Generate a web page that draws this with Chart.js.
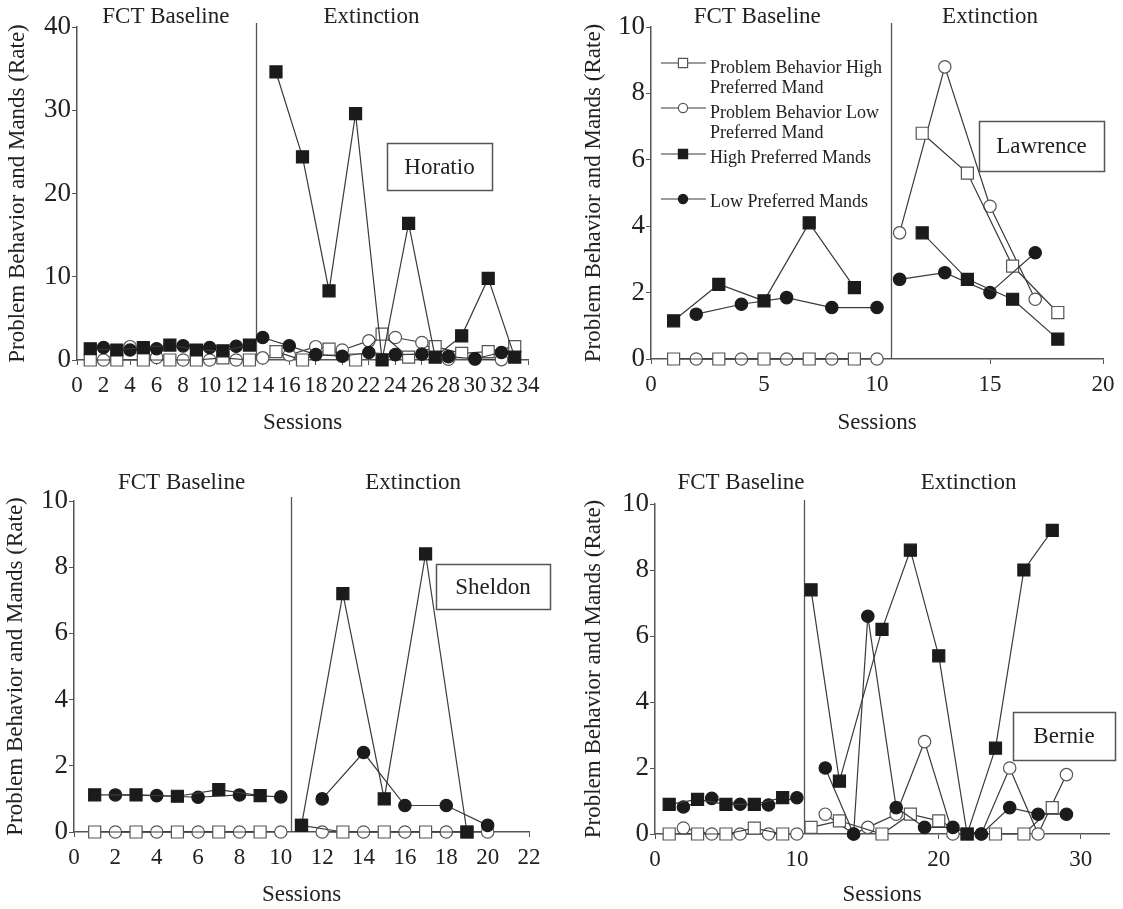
<!DOCTYPE html>
<html>
<head>
<meta charset="utf-8">
<title>Problem Behavior and Mands</title>
<script src="https://cdn.jsdelivr.net/npm/chart.js@4.4.1/dist/chart.umd.min.js"></script>
<style>
  html, body { margin: 0; padding: 0; background: #fff; }
  #wrap { position: relative; width: 1123px; height: 909px; overflow: hidden; }
  canvas { position: absolute; }
</style>
</head>
<body>
<div id="wrap">
  <canvas id="horatio" width="560" height="440" style="left:0;top:0"></canvas>
  <canvas id="lawrence" width="563" height="440" style="left:560px;top:0"></canvas>
  <canvas id="sheldon" width="560" height="469" style="left:0;top:440px"></canvas>
  <canvas id="bernie" width="563" height="469" style="left:560px;top:440px"></canvas>
</div>
<script>
// Horatio
const horatioHighSessions = [1, 3, 5, 7, 9, 11, 13, 15, 17, 19, 21, 23, 25, 27, 29, 31, 33];
const horatioLowSessions = [2, 4, 6, 8, 10, 12, 14, 16, 18, 20, 22, 24, 26, 28, 30, 32];
const horatioPbHigh = [0, 0, 0, 0, 0, 0.25, 0, 1.0, 0, 1.3, 0, 3.1, 0.35, 1.6, 0.8, 1.0, 1.6];
const horatioPbLow = [0, 1.6, 0.3, 0, 0, 0, 0.25, 0.6, 1.6, 1.2, 2.3, 2.7, 2.1, 0.1, 0.1, 0.05];
const horatioHighMands = [1.35, 1.2, 1.5, 1.8, 1.2, 1.1, 1.8, 34.6, 24.4, 8.3, 29.6, 0, 16.4, 0.35, 2.9, 9.8, 0.35];
const horatioLowMands = [1.5, 1.2, 1.35, 1.7, 1.5, 1.65, 2.7, 1.7, 0.65, 0.45, 0.9, 0.65, 0.7, 0.4, 0.15, 0.9];

// Lawrence
const lawrenceHighSessions = [1, 3, 5, 7, 9, 12, 14, 16, 18];
const lawrenceLowSessions = [2, 4, 6, 8, 10, 11, 13, 15, 17];
const lawrencePbHigh = [0, 0, 0, 0, 0, 6.8, 5.6, 2.8, 1.4];
const lawrencePbLow = [0, 0, 0, 0, 0, 3.8, 8.8, 4.6, 1.8];
const lawrenceHighMands = [1.15, 2.25, 1.75, 4.1, 2.15, 3.8, 2.4, 1.8, 0.6];
const lawrenceLowMands = [1.35, 1.65, 1.85, 1.55, 1.55, 2.4, 2.6, 2.0, 3.2];

// Sheldon
const sheldonHighSessions = [1, 3, 5, 7, 9, 11, 13, 15, 17, 19];
const sheldonLowSessions = [2, 4, 6, 8, 10, 12, 14, 16, 18, 20];
const sheldonPbHigh = [0, 0, 0, 0, 0, 0.2, 0, 0, 0, 0];
const sheldonPbLow = [0, 0, 0, 0, 0, 0, 0, 0, 0, 0];
const sheldonHighMands = [1.12, 1.12, 1.08, 1.28, 1.1, 0.2, 7.2, 1.0, 8.4, 0];
const sheldonLowMands = [1.12, 1.1, 1.05, 1.12, 1.06, 1.0, 2.4, 0.8, 0.8, 0.2];

// Bernie
const bernieHighSessions = [1, 3, 5, 7, 9, 11, 13, 16, 18, 20, 22, 24, 26, 28];
const bernieLowSessions = [2, 4, 6, 8, 10, 12, 14, 15, 17, 19, 21, 23, 25, 27, 29];
const berniePbHigh = [0, 0, 0, 0.18, 0, 0.2, 0.4, 0, 0.6, 0.4, 0, 0, 0, 0.8];
const berniePbLow = [0.18, 0, 0, 0, 0, 0.6, 0, 0.2, 0.6, 2.8, 0, 0, 2.0, 0, 1.8];
const bernieHighMands = [0.9, 1.05, 0.9, 0.9, 1.1, 7.4, 1.6, 6.2, 8.6, 5.4, 0, 2.6, 8.0, 9.2];
const bernieLowMands = [0.82, 1.08, 0.9, 0.88, 1.1, 2.0, 0, 6.6, 0.8, 0.2, 0.2, 0, 0.8, 0.6, 0.6];

const phaseLabels = ['FCT Baseline', 'Extinction'];
const legendLabels = [
  ['Problem Behavior High', 'Preferred Mand'],
  ['Problem Behavior Low', 'Preferred Mand'],
  ['High Preferred Mands'],
  ['Low Preferred Mands']
];

const FONT = "'Liberation Serif', 'Times New Roman', serif";
const INK = '#222';
const AXIS = '#555';
const LINE = '#3a3a3a';

// marker look for each series, in legend order
const seriesStyles = [
  {key: 'pbHigh', sessions: 'high', pointStyle: 'rect', radius: 8.5, fill: '#fff', stroke: '#555'},
  {key: 'pbLow', sessions: 'low', pointStyle: 'circle', radius: 6.2, fill: '#fff', stroke: '#555'},
  {key: 'highMands', sessions: 'high', pointStyle: 'rect', radius: 8.5, fill: '#1b1b1b', stroke: '#1b1b1b'},
  {key: 'lowMands', sessions: 'low', pointStyle: 'circle', radius: 6.2, fill: '#1b1b1b', stroke: '#1b1b1b'}
];

const panels = [
  {
    id: 'horatio', name: 'Horatio', w: 560, h: 440,
    high: horatioHighSessions, low: horatioLowSessions,
    pbHigh: horatioPbHigh, pbLow: horatioPbLow, highMands: horatioHighMands, lowMands: horatioLowMands,
    phase: 13.5, xMax: 34, xStep: 2, yMax: 40, yStep: 10,
    area: {left: 77, right: 528, top: 27, bottom: 360},
    yTitlePad: 4, xTitlePad: 3, headerGap: 10, headerAt: [6.7, 22.2],
    box: {x: 387, y: 143, w: 105, h: 47}, legend: false
  },
  {
    id: 'lawrence', name: 'Lawrence', w: 563, h: 440,
    high: lawrenceHighSessions, low: lawrenceLowSessions,
    pbHigh: lawrencePbHigh, pbLow: lawrencePbLow, highMands: lawrenceHighMands, lowMands: lawrenceLowMands,
    phase: 10.6, xMax: 20, xStep: 5, yMax: 10, yStep: 2,
    area: {left: 91, right: 543, top: 27, bottom: 359},
    yTitlePad: 20, xTitlePad: 3, headerGap: 10, headerAt: [4.7, 15.0],
    box: {x: 419, y: 121, w: 125, h: 50}, legend: {x: 101, x2: 146, mx: 123, tx: 150}
  },
  {
    id: 'sheldon', name: 'Sheldon', w: 560, h: 469,
    high: sheldonHighSessions, low: sheldonLowSessions,
    pbHigh: sheldonPbHigh, pbLow: sheldonPbLow, highMands: sheldonHighMands, lowMands: sheldonLowMands,
    phase: 10.5, xMax: 22, xStep: 2, yMax: 10, yStep: 2,
    area: {left: 74, right: 529, top: 61, bottom: 392},
    yTitlePad: 2, xTitlePad: 0, headerGap: 18, headerAt: [5.2, 16.4],
    box: {x: 436, y: 124, w: 114, h: 45}, legend: false
  },
  {
    id: 'bernie', name: 'Bernie', w: 563, h: 469,
    high: bernieHighSessions, low: bernieLowSessions,
    pbHigh: berniePbHigh, pbLow: berniePbLow, highMands: bernieHighMands, lowMands: bernieLowMands,
    phase: 10.5, xMax: 32, xStep: 10, yMax: 10, yStep: 2,
    area: {left: 95, right: 549, top: 64, bottom: 394},
    yTitlePad: 20, xTitlePad: 0, headerGap: 21, headerAt: [6.06, 22.1],
    box: {x: 453, y: 272, w: 102, h: 48}, legend: false
  }
];

// split one series into baseline / extinction pieces so no line crosses the phase change
function phasePoints(sessions, values, phase, after) {
  const pts = [];
  sessions.forEach((s, i) => {
    if ((s > phase) === after) pts.push({x: s, y: values[i]});
  });
  return pts;
}

const panelDecor = {
  id: 'panelDecor',
  beforeDatasetsDraw(chart) {
    const p = chart.options.plugins.panelDecor;
    const {ctx, chartArea} = chart;
    const px = Math.round(chart.scales.x.getPixelForValue(p.phase)) + 0.5;
    ctx.save();
    ctx.strokeStyle = AXIS;
    ctx.lineWidth = 1.3;
    ctx.beginPath();
    ctx.moveTo(px, chartArea.top - 4);
    ctx.lineTo(px, chartArea.bottom);
    ctx.stroke();
    ctx.restore();
  },
  afterDraw(chart) {
    const p = chart.options.plugins.panelDecor;
    const {ctx, chartArea} = chart;
    const xs = chart.scales.x;
    ctx.save();
    ctx.fillStyle = INK;
    ctx.font = '23px ' + FONT;
    ctx.textAlign = 'center';
    ctx.textBaseline = 'middle';
    phaseLabels.forEach((t, i) => {
      ctx.fillText(t, xs.getPixelForValue(p.headerAt[i]), chartArea.top - p.headerGap);
    });

    // participant name box
    const b = p.box;
    ctx.fillStyle = '#fff';
    ctx.fillRect(b.x, b.y, b.w, b.h);
    ctx.strokeStyle = AXIS;
    ctx.lineWidth = 1.5;
    ctx.strokeRect(b.x + 0.5, b.y + 0.5, b.w, b.h);
    ctx.fillStyle = INK;
    ctx.fillText(p.name, b.x + b.w / 2, b.y + b.h / 2 + 1);

    if (p.legend) {
      const lg = p.legend;
      const rows = [63, 108, 154, 199];
      const textRows = [[68, 88], [113, 133], [158], [202]];
      ctx.font = '18px ' + FONT;
      ctx.textAlign = 'left';
      seriesStyles.forEach((st, i) => {
        ctx.strokeStyle = LINE;
        ctx.lineWidth = 1.2;
        ctx.beginPath();
        ctx.moveTo(lg.x, rows[i]);
        ctx.lineTo(lg.x2, rows[i]);
        ctx.stroke();
        ctx.fillStyle = st.fill;
        ctx.strokeStyle = st.stroke;
        ctx.lineWidth = 1.2;
        Chart.helpers.drawPoint(ctx, {
          pointStyle: st.pointStyle,
          radius: st.pointStyle === 'rect' ? 6.5 : 4.6,
          rotation: 0,
          borderWidth: 1.2
        }, lg.mx, rows[i]);
        ctx.fillStyle = INK;
        legendLabels[i].forEach((line, j) => ctx.fillText(line, lg.tx, textRows[i][j]));
      });
    }
    ctx.restore();
  }
};

function makePanel(p) {
  const datasets = [];
  // filled markers first so they sit on top of the open ones
  [2, 3, 0, 1].forEach(idx => {
    const st = seriesStyles[idx];
    const sessions = st.sessions === 'high' ? p.high : p.low;
    [false, true].forEach(after => {
      datasets.push({
        data: phasePoints(sessions, p[st.key], p.phase, after),
        showLine: true,
        borderColor: LINE,
        borderWidth: 1.2,
        pointStyle: st.pointStyle,
        pointRadius: st.radius,
        pointHoverRadius: st.radius,
        pointBackgroundColor: st.fill,
        pointBorderColor: st.stroke,
        pointBorderWidth: 1.2,
        clip: false
      });
    });
  });

  const tickFont = {family: FONT, size: 23};
  const titleFont = {family: FONT, size: 23};

  new Chart(document.getElementById(p.id), {
    type: 'scatter',
    data: {datasets: datasets},
    plugins: [panelDecor],
    options: {
      responsive: false,
      animation: false,
      events: [],
      layout: {padding: {left: 0, top: p.area.top, right: p.w - p.area.right, bottom: 0}},
      plugins: {
        legend: {display: false},
        tooltip: {enabled: false},
        panelDecor: p
      },
      scales: {
        x: {
          type: 'linear',
          min: 0,
          max: p.xMax,
          afterFit: s => { s.height = p.h - p.area.bottom; },
          // only multiples of the step get a tick (Bernie's axis runs past its last label)
          afterBuildTicks: s => {
            const ticks = [];
            for (let v = 0; v <= p.xMax; v += p.xStep) ticks.push({value: v});
            s.ticks = ticks;
          },
          ticks: {stepSize: p.xStep, autoSkip: false, maxRotation: 0, font: tickFont, color: INK, padding: 7},
          grid: {drawOnChartArea: false, drawTicks: true, tickLength: 5, color: AXIS},
          border: {color: AXIS, width: 1.5},
          title: {display: true, text: 'Sessions', font: titleFont, color: INK, padding: {top: 0, bottom: p.xTitlePad}}
        },
        y: {
          type: 'linear',
          min: 0,
          max: p.yMax,
          afterFit: s => { s.width = p.area.left; },
          ticks: {stepSize: p.yStep, font: {family: FONT, size: 27}, color: INK, padding: 1},
          grid: {drawOnChartArea: false, drawTicks: true, tickLength: 5, color: AXIS},
          border: {color: AXIS, width: 1.5},
          title: {display: true, text: 'Problem Behavior and Mands (Rate)', font: titleFont, color: INK, padding: {top: p.yTitlePad, bottom: 0}}
        }
      }
    }
  });
}

panels.forEach(makePanel);
</script>
</body>
</html>
